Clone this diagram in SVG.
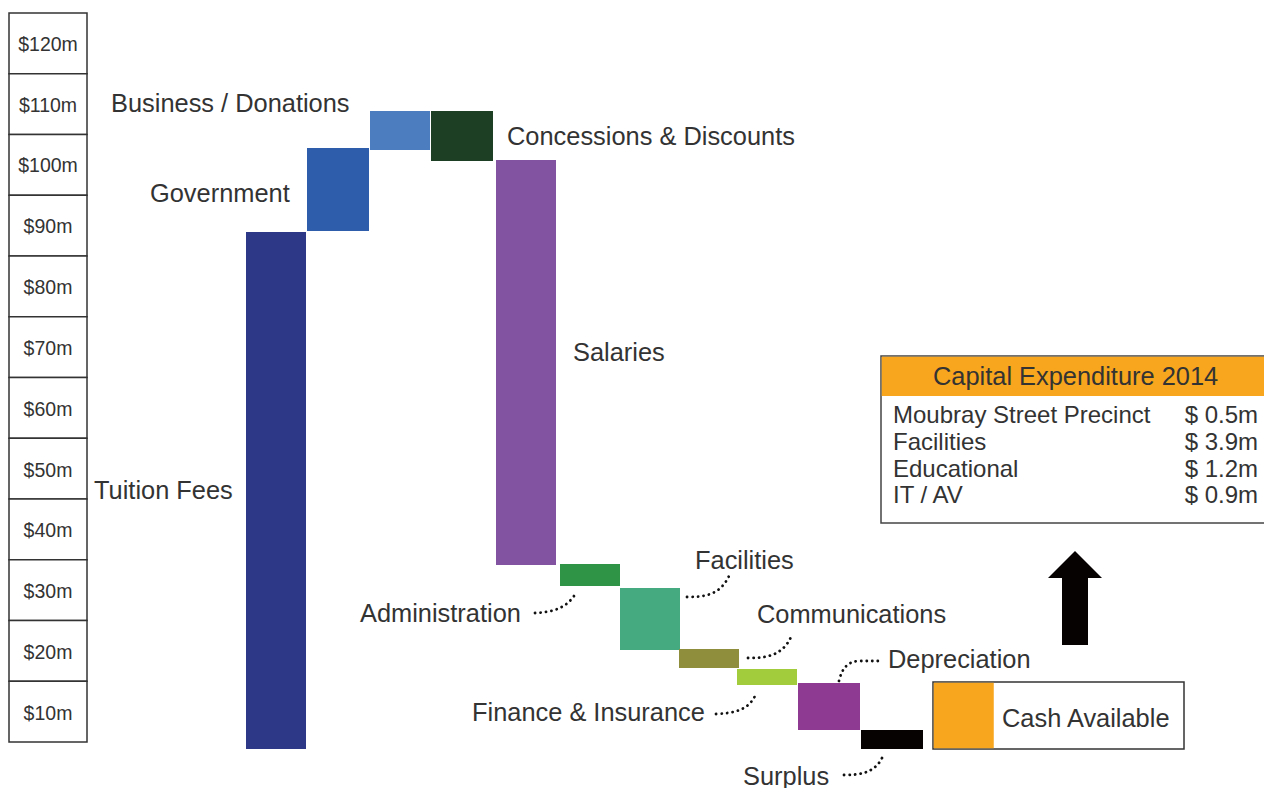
<svg xmlns="http://www.w3.org/2000/svg" width="1264" height="788" viewBox="0 0 1264 788">
<style>
text{font-family:"Liberation Sans",Arial,sans-serif;fill:#333;}
.ax{font-size:19.5px;text-anchor:middle;}
.lb{font-size:25.4px;}
.rw{font-size:24px;}
.cell{fill:#fff;stroke:#333;stroke-width:1.5;}
.dot{fill:none;stroke:#111;stroke-width:2.8;stroke-linecap:round;stroke-dasharray:0.1 5.4;}
</style>
<rect width="1264" height="788" fill="#fff"/>
<g id="axis">
<rect class="cell" x="9" y="13" width="78" height="60.75"/>
<rect class="cell" x="9" y="73.75" width="78" height="60.75"/>
<rect class="cell" x="9" y="134.5" width="78" height="60.75"/>
<rect class="cell" x="9" y="195.25" width="78" height="60.75"/>
<rect class="cell" x="9" y="256" width="78" height="60.75"/>
<rect class="cell" x="9" y="316.75" width="78" height="60.75"/>
<rect class="cell" x="9" y="377.5" width="78" height="60.75"/>
<rect class="cell" x="9" y="438.25" width="78" height="60.75"/>
<rect class="cell" x="9" y="499" width="78" height="60.75"/>
<rect class="cell" x="9" y="559.75" width="78" height="60.75"/>
<rect class="cell" x="9" y="620.5" width="78" height="60.75"/>
<rect class="cell" x="9" y="681.25" width="78" height="60.75"/>
<text class="ax" x="48" y="51">$120m</text>
<text class="ax" x="48" y="112">$110m</text>
<text class="ax" x="48" y="172">$100m</text>
<text class="ax" x="48" y="233">$90m</text>
<text class="ax" x="48" y="294">$80m</text>
<text class="ax" x="48" y="355">$70m</text>
<text class="ax" x="48" y="416">$60m</text>
<text class="ax" x="48" y="477">$50m</text>
<text class="ax" x="48" y="537">$40m</text>
<text class="ax" x="48" y="598">$30m</text>
<text class="ax" x="48" y="659">$20m</text>
<text class="ax" x="48" y="720">$10m</text>
</g>
<g id="tuition"><rect x="246" y="232" width="60" height="517" fill="#2d3886"/><text class="lb" x="94" y="499">Tuition Fees</text></g>
<g id="government"><rect x="307" y="148" width="62" height="83" fill="#2e5eab"/><text class="lb" x="150" y="202">Government</text></g>
<g id="business"><rect x="370" y="111" width="60" height="39" fill="#4c7dbf"/><text class="lb" x="111" y="112">Business / Donations</text></g>
<g id="concessions"><rect x="431" y="111" width="62" height="50" fill="#1d4024"/><text class="lb" x="507" y="145">Concessions &amp; Discounts</text></g>
<g id="salaries"><rect x="496" y="160" width="60" height="405" fill="#8253a1"/><text class="lb" x="573" y="361">Salaries</text></g>
<g id="administration"><rect x="560" y="564" width="60" height="22" fill="#2f9446"/><text class="lb" x="360" y="622">Administration</text></g>
<g id="facilities"><rect x="620" y="588" width="60" height="62" fill="#46aa81"/><text class="lb" x="695" y="569">Facilities</text></g>
<g id="communications"><rect x="679" y="649" width="60" height="19" fill="#8f8e3c"/><text class="lb" x="757" y="623">Communications</text></g>
<g id="finance"><rect x="737" y="669" width="60" height="16" fill="#a3cc3c"/><text class="lb" x="472" y="721">Finance &amp; Insurance</text></g>
<g id="depreciation"><rect x="798" y="683" width="62" height="47" fill="#8e3a92"/><text class="lb" x="888" y="668">Depreciation</text></g>
<g id="surplus"><rect x="861" y="730" width="62" height="19" fill="#070202"/><text class="lb" x="743" y="785">Surplus</text></g>
<g id="cash">
<rect x="933" y="682" width="251" height="67" fill="#fff" stroke="#333" stroke-width="1.5"/>
<rect x="933.75" y="682.75" width="60" height="65.5" fill="#f7a61d"/>
<text class="lb" x="1002" y="727">Cash Available</text>
</g>
<g id="capex">
<rect x="881" y="356" width="400" height="167" fill="#fff" stroke="#444" stroke-width="1.5"/>
<rect x="881.75" y="356.75" width="400" height="39.25" fill="#f7a61d"/>
<text class="lb" x="933" y="385">Capital Expenditure 2014</text>
<text class="rw" x="893" y="423">Moubray Street Precinct</text>
<text class="rw" x="893" y="450">Facilities</text>
<text class="rw" x="893" y="477">Educational</text>
<text class="rw" x="893" y="503">IT / AV</text>
<text class="rw" x="1258" y="423" text-anchor="end">$ 0.5m</text>
<text class="rw" x="1258" y="450" text-anchor="end">$ 3.9m</text>
<text class="rw" x="1258" y="477" text-anchor="end">$ 1.2m</text>
<text class="rw" x="1258" y="503" text-anchor="end">$ 0.9m</text>
</g>
<g id="connectors">
<path class="dot" d="M535,613 C550,612 564,610 574,596"/>
<path class="dot" d="M687,597 C705,597 720,595 729,576"/>
<path class="dot" d="M748,658 C766,658 782,656 791,637"/>
<path class="dot" d="M716,714 C735,713 748,710 755,696"/>
<path class="dot" d="M839,681 C842,668 848,661 860,661 L881,661"/>
<path class="dot" d="M844,775 C862,775 875,772 882,758"/>
<path d="M1075,551 L1102,578 L1088,578 L1088,645 L1062,645 L1062,578 L1048,578 Z" fill="#070202"/>
</g>
</svg>
